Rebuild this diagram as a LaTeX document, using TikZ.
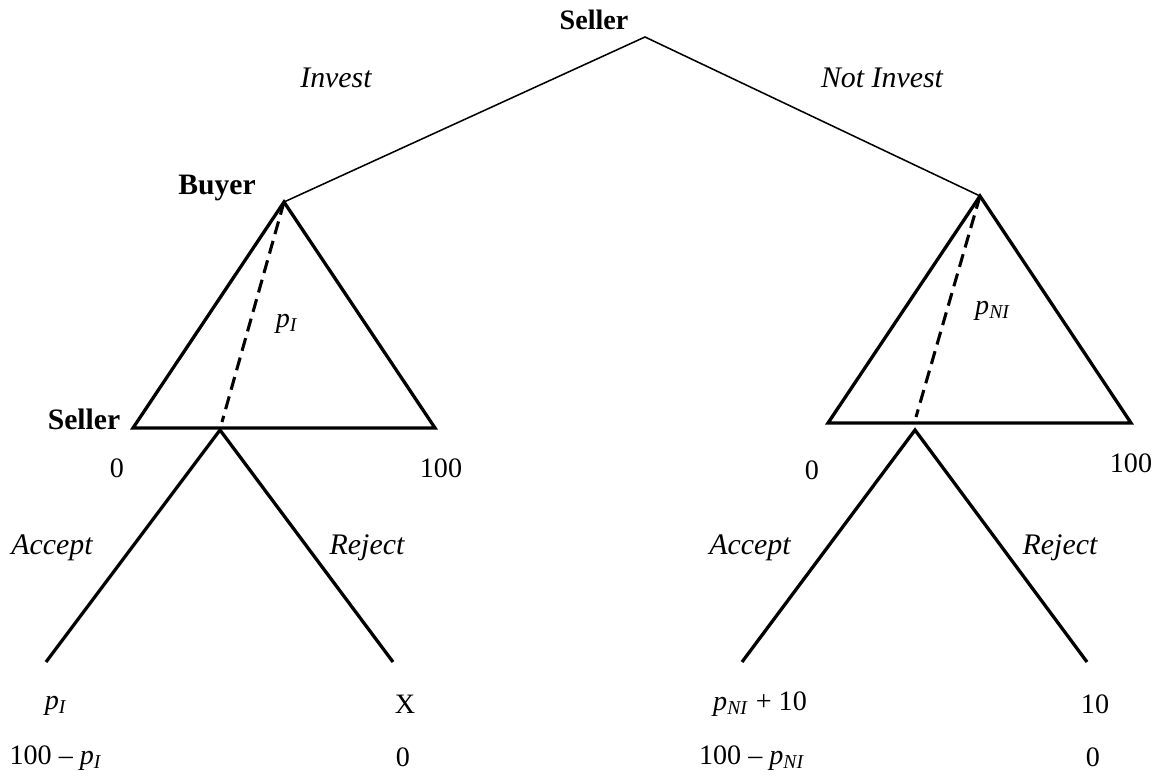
\documentclass[tikz,border=0pt]{standalone}
\usepackage{fontspec}
\setmainfont{Liberation Serif}
\newcommand{\pay}[1]{\textit{p}\textsubscript{\textit{#1}}}
\begin{document}
\begin{tikzpicture}[x=0.016cm,y=-0.016cm,font=\fontsize{12.8}{15}\selectfont,
    branch/.style={line width=0.7pt},
    move/.style={line width=1.5pt},
    info/.style={line width=1.4pt,dash pattern=on 6pt off 3.2pt},
    player/.style={font=\fontsize{13.5}{15}\selectfont\bfseries},
    act/.style={font=\fontsize{13.6}{15}\selectfont\itshape}]
    \useasboundingbox (0,0) rectangle (1156,782);

    \coordinate (root) at (645,37);
    \coordinate (buyI) at (284,202);
    \coordinate (buyN) at (980,196);
    \coordinate (baseIL) at (133,428);
    \coordinate (baseIR) at (435,428);
    \coordinate (baseNL) at (828,423);
    \coordinate (baseNR) at (1131,423);
    \coordinate (selI) at (220,430);
    \coordinate (selN) at (915,430);
    \coordinate (dashI) at (222,422);
    \coordinate (dashN) at (916,417);
    \coordinate (accI) at (46,662);
    \coordinate (rejI) at (393,662);
    \coordinate (accN) at (742,662);
    \coordinate (rejN) at (1087,662);

    \draw[branch] (buyI) -- (root) -- (buyN);
    \draw[move,line join=miter] (buyI) -- (baseIR) -- (baseIL) -- cycle;
    \draw[move,line join=miter] (buyN) -- (baseNR) -- (baseNL) -- cycle;
    \draw[info] (buyI) -- (dashI);
    \draw[info] (buyN) -- (dashN);
    \draw[move] (accI) -- (selI) -- (rejI);
    \draw[move] (accN) -- (selN) -- (rejN);

    \node[player,font=\fontsize{12.8}{15}\selectfont\bfseries] (lroot) at (594,20) {Seller};
    \node[player] (lbuyI) at (217,188) {Buyer};
    \node[player] (lselI) at (84,419) {Seller};
    \node[act] (linv) at (336,78) {Invest};
    \node[act] (lninv) at (882,78) {Not Invest};

    \node (pI) at (287,324) {\pay{I}};
    \node (pNI) at (993,311) {\pay{NI}};
    \node (zI) at (117,468) {0};
    \node (hI) at (441,468) {100};
    \node (zN) at (812,470) {0};
    \node (hN) at (1131,463) {100};

    \node[act] (laccI) at (52,548) {Accept};
    \node[act] (lrejI) at (367,548) {Reject};
    \node[act] (laccN) at (750,548) {Accept};
    \node[act] (lrejN) at (1060,548) {Reject};

    \node (aI1) at (56,706) {\pay{I}};
    \node (aI2) at (56,758) {100 – \pay{I}};
    \node (rI1) at (405,704) {X};
    \node (rI2) at (403,757) {0};
    \node (aN1) at (760,704) {\pay{NI} + 10};
    \node (aN2) at (752,758) {100 – \pay{NI}};
    \node (rN1) at (1095,704) {10};
    \node (rN2) at (1093,757) {0};
\end{tikzpicture}
\end{document}
